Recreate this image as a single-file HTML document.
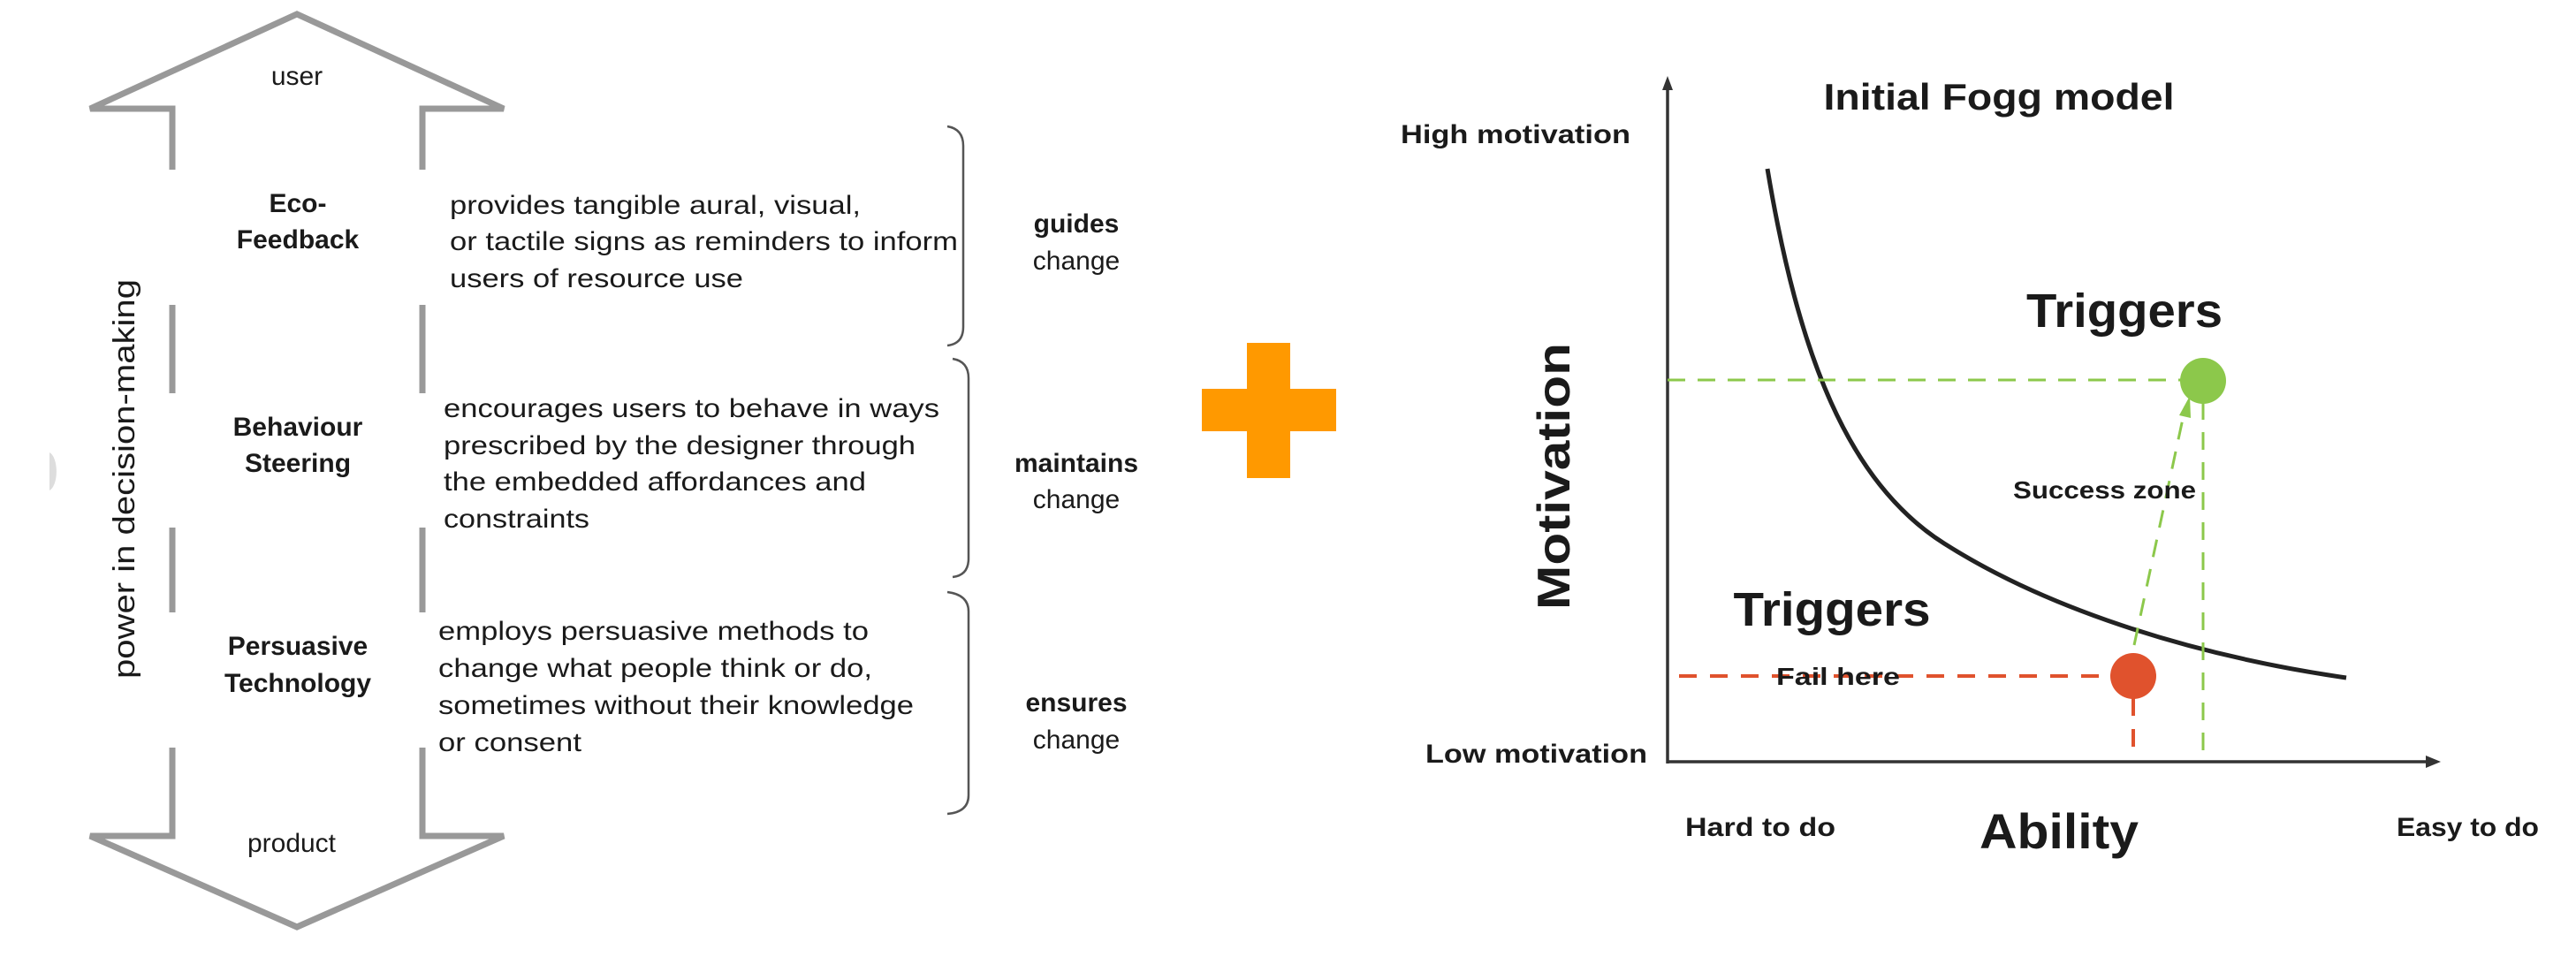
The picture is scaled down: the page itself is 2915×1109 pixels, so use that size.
<!DOCTYPE html>
<html><head><meta charset="utf-8"><style>
html,body{margin:0;padding:0;background:#fff;}
svg{display:block;}
.a{font-family:"Liberation Sans",Arial,sans-serif;fill:#1a1a1a;}
.b{font-family:"Liberation Sans",Arial,sans-serif;font-weight:bold;fill:#1a1a1a;}
</style></head><body>
<svg width="2915" height="1109" viewBox="0 0 2915 1109" xmlns="http://www.w3.org/2000/svg">
<g fill="none" stroke="#999" stroke-width="7">
<polyline points="195,192 195,123 102,123 336,16 570,123 478,123 478,192"/>
<line x1="195" y1="345" x2="195" y2="445"/><line x1="478" y1="345" x2="478" y2="445"/>
<line x1="195" y1="597" x2="195" y2="693"/><line x1="478" y1="597" x2="478" y2="693"/>
<polyline points="195,846 195,946 102,946 336,1049 570,946 478,946 478,846"/>
</g>
<path d="M56,512 A10,22 0 0 1 56,555 Z" fill="#ddd"/>
<text class="a" font-size="34" text-anchor="middle" transform="translate(152,542) rotate(-90)" textLength="452" lengthAdjust="spacingAndGlyphs">power in decision-making</text>
<g class="a" font-size="30" text-anchor="middle">
<text x="336" y="96">user</text>
<text x="330" y="964">product</text>
</g>
<g class="b" font-size="30" text-anchor="middle">
<text x="337" y="240">Eco-</text>
<text x="337" y="281">Feedback</text>
<text x="337" y="493">Behaviour</text>
<text x="337" y="534">Steering</text>
<text x="337" y="741">Persuasive</text>
<text x="337" y="783">Technology</text>
<text x="1218" y="263">guides</text>
<text x="1218" y="534">maintains</text>
<text x="1218" y="805">ensures</text>
</g>
<g class="a" font-size="30" text-anchor="middle">
<text x="1218" y="305">change</text>
<text x="1218" y="575">change</text>
<text x="1218" y="847">change</text>
</g>
<g class="a" font-size="30">
<text x="509" y="242" textLength="465" lengthAdjust="spacingAndGlyphs">provides tangible aural, visual,</text>
<text x="509" y="283" textLength="575" lengthAdjust="spacingAndGlyphs">or tactile signs as reminders to inform</text>
<text x="509" y="325" textLength="332" lengthAdjust="spacingAndGlyphs">users of resource use</text>
<text x="502" y="472" textLength="561" lengthAdjust="spacingAndGlyphs">encourages users to behave in ways</text>
<text x="502" y="514" textLength="534" lengthAdjust="spacingAndGlyphs">prescribed by the designer through</text>
<text x="502" y="555" textLength="478" lengthAdjust="spacingAndGlyphs">the embedded affordances and</text>
<text x="502" y="597" textLength="165" lengthAdjust="spacingAndGlyphs">constraints</text>
<text x="496" y="724" textLength="487" lengthAdjust="spacingAndGlyphs">employs persuasive methods to</text>
<text x="496" y="766" textLength="491" lengthAdjust="spacingAndGlyphs">change what people think or do,</text>
<text x="496" y="808" textLength="538" lengthAdjust="spacingAndGlyphs">sometimes without their knowledge</text>
<text x="496" y="850" textLength="162" lengthAdjust="spacingAndGlyphs">or consent</text>
</g>
<g fill="none" stroke="#555" stroke-width="2.5">
<path d="M1072,143 Q1090,146 1090,165 L1090,370 Q1090,389 1072,391"/>
<path d="M1078,406 Q1096,409 1096,428 L1096,632 Q1096,651 1078,653"/>
<path d="M1072,670 Q1096,673 1096,692 L1096,900 Q1096,919 1072,921"/>
</g>
<rect x="1360" y="440" width="152" height="48" fill="#FF9900"/>
<rect x="1411" y="388" width="49" height="153" fill="#FF9900"/>
<g stroke="#333" stroke-width="3.5" fill="none">
<line x1="1887" y1="864" x2="1887" y2="95"/>
<line x1="1887" y1="862" x2="2752" y2="862"/>
</g>
<polygon points="1881,102 1887,86 1893,102" fill="#333"/>
<polygon points="2745,855 2762,862 2745,869" fill="#333"/>
<path d="M2000,191 C2035,400 2090,545 2200,615 S2470,740 2655,767" fill="none" stroke="#222" stroke-width="5"/>
<g stroke="#8CC84B" stroke-width="3" fill="none" stroke-dasharray="20,14">
<line x1="1887" y1="430" x2="2470" y2="430"/>
<line x1="2493" y1="455" x2="2493" y2="862"/>
<line x1="2415" y1="730" x2="2473" y2="460"/>
</g>
<polygon points="2466,470 2478,448 2479,473" fill="#8CC84B"/>
<circle cx="2493" cy="431" r="26" fill="#8CC84B"/>
<g stroke="#E0522D" stroke-width="4" fill="none" stroke-dasharray="20,15">
<line x1="1900" y1="765" x2="2390" y2="765"/>
<line x1="2414" y1="790" x2="2414" y2="848"/>
</g>
<circle cx="2414" cy="765" r="26" fill="#E0522D"/>
<g class="b">
<text x="2262" y="124" font-size="42" text-anchor="middle" textLength="397" lengthAdjust="spacingAndGlyphs">Initial Fogg model</text>
<text x="1585" y="162" font-size="30" textLength="260" lengthAdjust="spacingAndGlyphs">High motivation</text>
<text x="1613" y="863" font-size="30" textLength="251" lengthAdjust="spacingAndGlyphs">Low motivation</text>
<text x="2404" y="370" font-size="54" text-anchor="middle" textLength="222" lengthAdjust="spacingAndGlyphs">Triggers</text>
<text x="2073" y="708" font-size="54" text-anchor="middle" textLength="223" lengthAdjust="spacingAndGlyphs">Triggers</text>
<text x="2278" y="564" font-size="28" textLength="207" lengthAdjust="spacingAndGlyphs">Success zone</text>
<text x="2010" y="775" font-size="28" textLength="140" lengthAdjust="spacingAndGlyphs">Fail here</text>
<text x="1907" y="946" font-size="30" textLength="170" lengthAdjust="spacingAndGlyphs">Hard to do</text>
<text x="2712" y="946" font-size="30" textLength="161" lengthAdjust="spacingAndGlyphs">Easy to do</text>
<text x="2330" y="960" font-size="56" text-anchor="middle" textLength="180" lengthAdjust="spacingAndGlyphs">Ability</text>
<text font-size="52" text-anchor="middle" transform="translate(1776,539) rotate(-90)" textLength="302" lengthAdjust="spacingAndGlyphs">Motivation</text>
</g>
</svg>
</body></html>
